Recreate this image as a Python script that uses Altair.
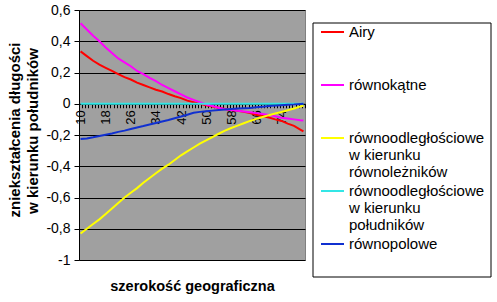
import altair as alt
import pandas as pd

# categories on the x axis (szerokość geograficzna)
categories = list(range(10, 82))

# sampled latitudes at which the series values were read
lat = [10, 12, 14, 16, 18, 20, 22, 24, 26, 28, 30, 32, 34, 36, 38, 40, 42, 44, 46,
       48, 50, 52, 54, 56, 58, 60, 62, 64, 66, 68, 70, 72, 74, 76, 78, 80, 81]

airy = [0.335, 0.305, 0.275, 0.25, 0.23, 0.21, 0.19, 0.17, 0.155, 0.135, 0.12, 0.105,
        0.09, 0.078, 0.062, 0.048, 0.036, 0.02, 0.01, 0.0, -0.01, -0.018, -0.025,
        -0.033, -0.04, -0.045, -0.052, -0.06, -0.07, -0.078, -0.088, -0.1, -0.11,
        -0.127, -0.142, -0.165, -0.177]
rownokatne = [0.515, 0.475, 0.435, 0.4, 0.36, 0.325, 0.29, 0.265, 0.24, 0.21, 0.19,
              0.165, 0.145, 0.12, 0.1, 0.08, 0.06, 0.04, 0.025, 0.01, -0.005, -0.015,
              -0.025, -0.035, -0.04, -0.045, -0.05, -0.055, -0.06, -0.065, -0.072,
              -0.08, -0.09, -0.095, -0.1, -0.105, -0.107]
rownoodl_rown = [-0.83, -0.8, -0.77, -0.74, -0.705, -0.67, -0.635, -0.6, -0.57, -0.54,
                 -0.505, -0.475, -0.445, -0.415, -0.39, -0.36, -0.33, -0.305, -0.28,
                 -0.255, -0.235, -0.213, -0.192, -0.172, -0.155, -0.14, -0.125, -0.11,
                 -0.097, -0.085, -0.073, -0.063, -0.053, -0.042, -0.03, -0.018, -0.013]
rownoodl_pol = [0.0] * 37
rownopolowe = [-0.226, -0.222, -0.215, -0.207, -0.198, -0.19, -0.18, -0.172, -0.162,
               -0.152, -0.143, -0.133, -0.123, -0.113, -0.104, -0.093, -0.082, -0.07,
               -0.058, -0.052, -0.048, -0.044, -0.04, -0.037, -0.034, -0.031, -0.029,
               -0.027, -0.023, -0.019, -0.015, -0.012, -0.009, -0.006, -0.004, -0.001, 0.0]

series_names = ["Airy", "równokątne", "równoodległościowe|w kierunku|równoleżników",
                "równoodległościowe|w kierunku|południków", "równopolowe"]
series_colors = ["#FF0000", "#FF00FF", "#FFFF00", "#33E6E6", "#1030D0"]
y_ticks = [-1, -0.8, -0.6, -0.4, -0.2, 0, 0.2, 0.4, 0.6]
y_title_lines = ["zniekształcenia długości", "w kierunku południków"]
x_title = "szerokość geograficzna"

rows = []
for name, vals in zip(series_names, [airy, rownokatne, rownoodl_rown, rownoodl_pol, rownopolowe]):
    for c, v in zip(lat, vals):
        rows.append({"lat": c, "val": v, "series": name})
df = pd.DataFrame(rows)

FONT = "Liberation Sans"

lines = alt.Chart(df).mark_line(strokeWidth=2).encode(
    x=alt.X("lat:O", scale=alt.Scale(domain=categories, paddingInner=0, paddingOuter=0),
            axis=alt.Axis(
                title=x_title, titleFont=FONT, titleFontSize=14.5,
                titleFontWeight="bold", titleColor="black", titleY=187,
                titleBaseline="alphabetic",
                offset=-156.25, labelAngle=270, labelAlign="right", labelBaseline="middle",
                labelFont=FONT, labelFontSize=13, labelColor="black", labelPadding=2,
                labelOverlap=False, labelExpr="(datum.value - 10) % 8 == 0 ? datum.label : ''",
                tickBand="extent", tickSize=4, tickColor="black", domainColor="black",
                grid=False)),
    y=alt.Y("val:Q", scale=alt.Scale(domain=[-1, 0.6], nice=False, zero=False),
            axis=alt.Axis(
                values=y_ticks, title=None,
                labelExpr="replace(replace(format(datum.value, '.1~f'), '.', ','), '\u2212', '-')",
                labelFont=FONT, labelFontSize=14, labelColor="black", labelPadding=4,
                tickSize=5, tickColor="black", domainColor="black",
                grid=True, gridColor="black", gridWidth=1)),
    color=alt.Color("series:N", scale=alt.Scale(domain=series_names, range=series_colors),
                    legend=alt.Legend(
                        title=None, orient="none", legendX=241, legendY=13.5,
                        labelExpr="slice(split(datum.label + '||', '|'), 0, 3)",
                        labelFont=FONT, labelFontSize=15, labelColor="black",
                        labelBaseline="middle", labelLimit=300, labelOffset=4,
                        symbolType="M-1,0L1,0", symbolSize=529, symbolStrokeWidth=2,
                        clipHeight=17, rowPadding=2, padding=0)),
    order=alt.Order("lat:Q"),
)

box_df = pd.DataFrame({"k": [0]})
legend_box = alt.Chart(box_df).mark_rect(fill="white", stroke="black", strokeWidth=1).encode(
    x=alt.value(234), x2=alt.value(412), y=alt.value(13), y2=alt.value(267)
)

title_df = pd.DataFrame({"k": [0]})
ytitle1 = alt.Chart(title_df).mark_text(
    text=y_title_lines[0], angle=270, font=FONT, fontSize=15, fontWeight="bold",
    color="black", align="center", baseline="middle"
).encode(x=alt.value(-64), y=alt.value(120))
ytitle2 = alt.Chart(title_df).mark_text(
    text=y_title_lines[1], angle=270, font=FONT, fontSize=15, fontWeight="bold",
    color="black", align="center", baseline="middle"
).encode(x=alt.value(-46), y=alt.value(121))

chart = alt.layer(legend_box, lines, ytitle1, ytitle2).properties(
    width=226, height=250,
    autosize=alt.AutoSizeParams(type="none"),
    padding={"left": 79, "top": 10, "right": 192, "bottom": 42},
    background="white",
).configure_view(fill="#A0A0A0", stroke="#808080", strokeWidth=1)

chart.save("out.html", embed_options={"renderer": "svg", "actions": False})
